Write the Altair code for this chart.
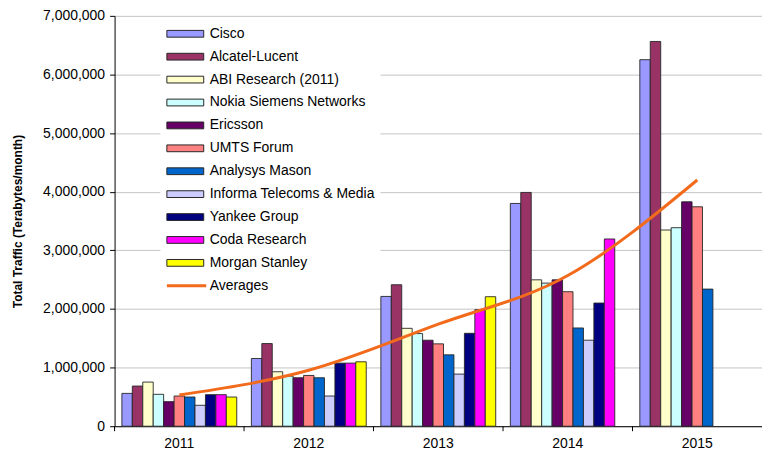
import altair as alt
import pandas as pd

years = ["2011", "2012", "2013", "2014", "2015"]
sources = [
    "Cisco", "Alcatel-Lucent", "ABI Research (2011)", "Nokia Siemens Networks",
    "Ericsson", "UMTS Forum", "Analysys Mason", "Informa Telecoms & Media",
    "Yankee Group", "Coda Research", "Morgan Stanley",
]
colors = [
    "#9999FF", "#993366", "#FFFFCC", "#CCFFFF", "#660066", "#FF8080",
    "#0066CC", "#CCCCFF", "#000080", "#FF00FF", "#FFFF00",
]

cisco = [560000, 1155000, 2214000, 3800000, 6252000]
alcatel = [685000, 1410000, 2413000, 3988000, 6563000]
abi = [753000, 929000, 1670000, 2497000, 3347000]
nokia = [544000, 855000, 1580000, 2441000, 3386000]
ericsson = [419000, 827000, 1467000, 2497000, 3828000]
umts = [515000, 866000, 1405000, 2294000, 3743000]
analysys = [498000, 827000, 1218000, 1676000, 2339000]
informa = [357000, 515000, 889000, 1467000, None]
yankee = [538000, 1076000, 1585000, 2101000, None]
coda = [538000, 1076000, 1988000, 3194000, None]
morgan = [498000, 1099000, 2209000, None, None]
averages = [531000, 955000, 1740000, 2570000, 4200000]

y_ticks = [0, 1000000, 2000000, 3000000, 4000000, 5000000, 6000000, 7000000]

series_values = [cisco, alcatel, abi, nokia, ericsson, umts, analysys,
                 informa, yankee, coda, morgan]

rows = []
for s, vals in zip(sources, series_values):
    for yr, v in zip(years, vals):
        if v is not None:
            rows.append({"year": yr, "source": s, "traffic": v})
df = pd.DataFrame(rows)
avg_df = pd.DataFrame({"year": years, "series": ["Averages"] * len(years), "traffic": averages})
tick_df = pd.DataFrame({"year": years})

W, H = 650, 412
FONT = "Liberation Sans"

x_scale = alt.Scale(domain=years, paddingInner=0, paddingOuter=0)
y_scale = alt.Scale(domain=[0, 7000000], nice=False)

x_axis = alt.Axis(title=None, labelAngle=0, ticks=False, grid=False, domainColor="#000000",
                  labelFont=FONT, labelFontSize=14, labelColor="#000000", labelPadding=10)
y_axis = alt.Axis(title="Total Traffic (Terabytes/month)", values=y_ticks, format=",d",
                  labelFont=FONT, labelFontSize=14, labelColor="#000000", labelPadding=5,
                  tickColor="#000000", tickSize=5, domainColor="#000000",
                  grid=True, gridColor="#C4C4C4",
                  titleFont=FONT, titleFontSize=12, titleFontWeight="bold",
                  titleColor="#000000", titlePadding=18)

legend_common = dict(title=None, orient="none", legendX=46, fillColor="white", padding=5,
                     symbolSize=64, labelOffset=30.5, labelFont=FONT, labelFontSize=14,
                     labelColor="#000000", labelLimit=400)

bars = alt.Chart(df).mark_bar(stroke="#262626", strokeWidth=0.9).encode(
    x=alt.X("year:N", scale=x_scale, axis=x_axis, sort=years),
    xOffset=alt.XOffset("source:N", sort=sources,
                        scale=alt.Scale(domain=sources, paddingInner=0, paddingOuter=0.7)),
    y=alt.Y("traffic:Q", scale=y_scale, axis=y_axis),
    fill=alt.Fill("source:N", sort=sources,
                  scale=alt.Scale(domain=sources, range=colors),
                  legend=alt.Legend(legendY=6,
                                    symbolType="M-1.375,-0.85H7.875V0.85H-1.375Z",
                                    symbolStrokeColor="#262626",
                                    symbolStrokeWidth=1, symbolOpacity=1,
                                    rowPadding=9, **legend_common)),
)

line = alt.Chart(avg_df).mark_line(strokeWidth=3, interpolate="monotone").encode(
    x=alt.X("year:N", scale=x_scale, sort=years),
    y=alt.Y("traffic:Q", scale=y_scale),
    stroke=alt.Stroke("series:N", scale=alt.Scale(domain=["Averages"], range=["#F26A1B"]),
                      legend=alt.Legend(legendY=259,
                                        symbolType="M-1.375,0H8.5",
                                        symbolStrokeWidth=3, **legend_common)),
)

ticks = alt.Chart(tick_df).mark_rule(color="#000000", strokeWidth=1).encode(
    x=alt.X("year:N", scale=x_scale, bandPosition=0, sort=years),
    y=alt.value(H),
    y2=alt.value(H + 5),
)

chart = alt.layer(bars, line, ticks).properties(
    width=W, height=H,
    padding={"left": 3, "top": 0, "right": 0, "bottom": 0},
).configure_view(stroke=None)

chart.save("out.html", embed_options={"renderer": "svg", "actions": False})
